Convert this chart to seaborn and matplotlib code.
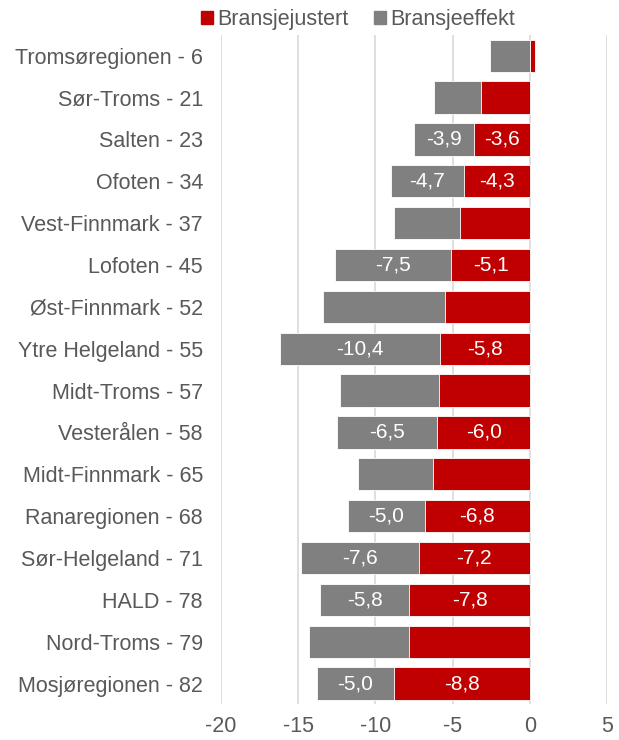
import matplotlib
matplotlib.use("Agg")
import matplotlib.pyplot as plt
import seaborn as sns
import pandas as pd
from matplotlib.patches import Patch

regions = ["Tromsøregionen - 6", "Sør-Troms - 21", "Salten - 23", "Ofoten - 34",
           "Vest-Finnmark - 37", "Lofoten - 45", "Øst-Finnmark - 52",
           "Ytre Helgeland - 55", "Midt-Troms - 57", "Vesterålen - 58",
           "Midt-Finnmark - 65", "Ranaregionen - 68", "Sør-Helgeland - 71",
           "HALD - 78", "Nord-Troms - 79", "Mosjøregionen - 82"]
bransjejustert = [0.3, -3.2, -3.6, -4.3, -4.5, -5.1, -5.5, -5.8, -5.9, -6.0,
                  -6.3, -6.8, -7.2, -7.8, -7.8, -8.8]
bransjeeffekt = [-2.6, -3.0, -3.9, -4.7, -4.3, -7.5, -7.9, -10.4, -6.4, -6.5,
                 -4.8, -5.0, -7.6, -5.8, -6.5, -5.0]
show_label = [False, False, True, True, False, True, False, True, False, True,
              False, True, True, True, False, True]

red = "#C00000"
grey = "#808080"
txt = "#595959"

df = pd.DataFrame({"region": regions, "just": bransjejustert, "eff": bransjeeffekt})
df["total"] = df["just"].clip(upper=0) + df["eff"]

sns.set_style("white")
plt.rcParams["font.family"] = ["Liberation Sans", "DejaVu Sans"]
plt.rcParams["axes.unicode_minus"] = False

fig, ax = plt.subplots(figsize=(6.19, 7.4), dpi=100)
fig.subplots_adjust(left=0.357, right=0.981, top=0.953, bottom=0.048)

sns.barplot(data=df, x="total", y="region", color=grey, width=0.77,
            saturation=1, ax=ax, edgecolor="white", linewidth=0.6)
sns.barplot(data=df, x="just", y="region", color=red, width=0.77,
            saturation=1, ax=ax, edgecolor="white", linewidth=0.6)

for i, row in df.iterrows():
    if not show_label[i]:
        continue
    base = min(row["just"], 0)
    ax.text(row["just"] / 2, i, f"{row['just']:.1f}".replace(".", ","),
            ha="center", va="center", color="white", fontsize=15)
    ax.text(base + row["eff"] / 2, i, f"{row['eff']:.1f}".replace(".", ","),
            ha="center", va="center", color="white", fontsize=15)

ax.set_xlim(-20, 5)
ax.set_xticks(range(-20, 6, 5))
ax.set_xlabel("")
ax.set_ylabel("")
ax.xaxis.grid(True, color="#D9D9D9", linewidth=1.2)
ax.set_axisbelow(True)
for s in ax.spines.values():
    s.set_visible(False)
ax.tick_params(axis="both", length=0, labelsize=15.5, colors=txt, pad=8)
ax.tick_params(axis="y", pad=13)

handles = [Patch(color=red, label="Bransjejustert"), Patch(color=grey, label="Bransjeeffekt")]
fig.legend(handles=handles, loc="upper center", bbox_to_anchor=(0.578, 1.014), ncol=2,
           frameon=False, fontsize=15.5, labelcolor=txt, handlelength=0.55,
           handleheight=0.55, handletextpad=0.2, columnspacing=1.2)

fig.savefig("out.png", dpi=100)
